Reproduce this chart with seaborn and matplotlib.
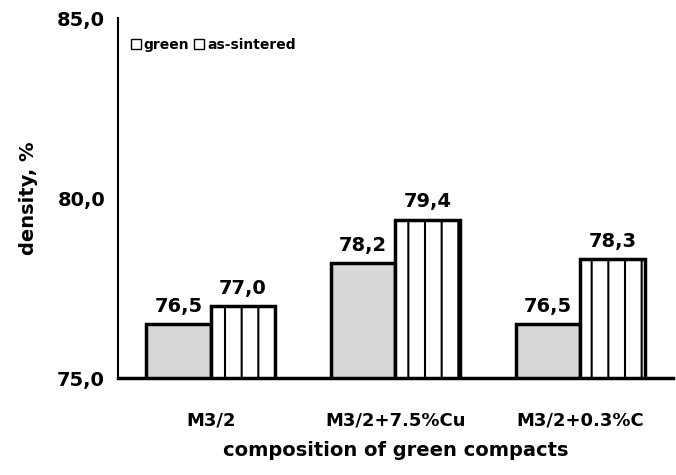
import matplotlib
matplotlib.use('Agg')
import matplotlib.pyplot as plt
import matplotlib.ticker as mticker
import pandas as pd
import seaborn as sns

sns.set_style('white')
plt.rcParams['font.family'] = ['DejaVu Sans']
plt.rcParams['font.weight'] = 'bold'
plt.rcParams['hatch.linewidth'] = 1.5
plt.rcParams['text.color'] = 'black'
plt.rcParams['axes.labelcolor'] = 'black'
plt.rcParams['xtick.color'] = 'black'
plt.rcParams['ytick.color'] = 'black'

# Data
categories = ['M3/2', 'M3/2+7.5%Cu', 'M3/2+0.3%C']
green = [76.5, 78.2, 76.5]
as_sintered = [77.0, 79.4, 78.3]
series_names = ['green', 'as-sintered']

df = pd.DataFrame({
    'composition': categories * 2,
    'density': green + as_sintered,
    'state': [series_names[0]] * 3 + [series_names[1]] * 3,
})

fig = plt.figure(figsize=(6.76, 4.75), dpi=100)
ax = fig.add_axes([0.175, 0.204, 0.82, 0.758])

sns.barplot(data=df, x='composition', y='density', hue='state',
            order=categories, hue_order=series_names, width=0.7,
            palette=['#d8d8d8', 'white'], edgecolor='black', linewidth=2.5,
            saturation=1, errorbar=None, ax=ax, legend=True)

hatches = ['', '|']
for cont, h in zip(ax.containers, hatches):
    for bar in cont:
        bar.set_hatch(h)
    ax.bar_label(cont, labels=[f'{b.get_height():.1f}'.replace('.', ',') for b in cont],
                 padding=6, fontsize=14, fontweight='bold', color='black')

ax.set_ylim(75, 85)
ax.set_yticks([75, 80, 85])
ax.yaxis.set_major_formatter(mticker.FuncFormatter(lambda v, p: f'{v:.1f}'.replace('.', ',')))
ax.set_ylabel('density, %', fontsize=14, fontweight='bold', labelpad=14)
ax.set_xlabel('composition of green compacts', fontsize=14, fontweight='bold', labelpad=8)
ax.tick_params(axis='y', labelsize=14, direction='out', length=6, width=1.2)
ax.tick_params(axis='x', labelsize=13, length=0, pad=24)
for lab in ax.get_xticklabels() + ax.get_yticklabels():
    lab.set_fontweight('bold')

sns.despine(ax=ax)
ax.spines['left'].set_linewidth(1.5)
ax.spines['bottom'].set_linewidth(2.5)
ax.spines['left'].set_color('black')
ax.spines['bottom'].set_color('black')

leg = ax.legend(loc='upper left', bbox_to_anchor=(0.0, 0.98), ncol=2, frameon=False,
                handlelength=0.7, handleheight=0.7, handletextpad=0.2, columnspacing=0.4,
                prop={'size': 10, 'weight': 'bold'})
for hnd in leg.legend_handles:
    hnd.set_hatch('')
    hnd.set_linewidth(1)
    hnd.set_facecolor('white')

fig.savefig('out.png', dpi=100, facecolor='white')
